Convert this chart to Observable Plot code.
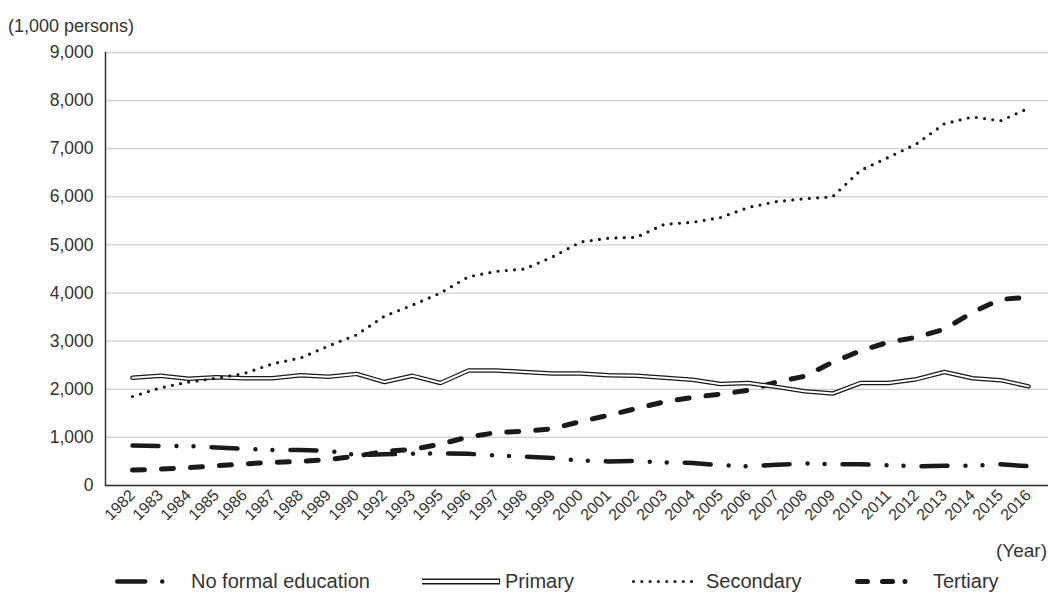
<!DOCTYPE html>
<html><head><meta charset="utf-8">
<script src="https://cdn.jsdelivr.net/npm/d3@7"></script>
<script src="https://cdn.jsdelivr.net/npm/@observablehq/plot@0.6"></script>
<style>
body{margin:0;background:#fff;font-family:"Liberation Sans",Arial,sans-serif;color:#333}
#wrap{position:relative;width:1048px;height:594px;overflow:hidden}
#chart{position:absolute;left:0;top:0}
.lab{position:absolute;color:#333;white-space:nowrap;line-height:1.15}
#ylab{left:8px;top:16px;font-size:18px}
#xlab{right:1px;top:540px;font-size:19px}
#legend{position:absolute;left:0;top:570px;width:1048px;height:23px}
.sw{position:absolute;top:0}
.txt{position:absolute;top:0;font-size:20px;line-height:23px;color:#333;white-space:nowrap}
</style></head><body>
<div id="wrap"><div id="chart"></div>
<div class="lab" id="ylab">(1,000 persons)</div>
<div class="lab" id="xlab">(Year)</div>
<div id="legend"></div></div>
<script>
const years = ["1982","1983","1984","1985","1986","1987","1988","1989","1990","1992","1993","1995","1996","1997","1998","1999","2000","2001","2002","2003","2004","2005","2006","2007","2008","2009","2010","2011","2012","2013","2014","2015","2016"];
const noFormal = [830,820,820,790,760,740,740,720,630,650,660,670,660,620,600,570,520,500,510,480,470,420,400,430,460,440,440,420,400,410,410,440,400];
const primary = [2240,2280,2220,2250,2230,2230,2290,2260,2320,2150,2280,2130,2390,2390,2360,2330,2330,2290,2280,2240,2200,2110,2130,2050,1960,1910,2130,2130,2210,2360,2230,2190,2060];
const secondary = [1850,2030,2150,2230,2330,2530,2650,2900,3130,3520,3750,4000,4340,4450,4500,4750,5060,5140,5160,5430,5470,5570,5780,5900,5960,6000,6550,6820,7100,7520,7660,7580,7840];
const tertiary = [320,340,370,410,450,480,500,540,610,710,750,860,1010,1100,1130,1180,1330,1460,1600,1740,1830,1900,1980,2150,2270,2560,2800,2980,3080,3250,3600,3870,3910];
const yTicks = [0,1000,2000,3000,4000,5000,6000,7000,8000,9000];
const seriesNames = ["No formal education","Primary","Secondary","Tertiary"];

const toRows = vals => years.map((y, i) => ({year: y, value: vals[i]}));
const ink = "#1a1a1a";
const styles = {
  "No formal education": {strokeWidth: 4.5, strokeDasharray: "26 18 0 17 0 18"},
  "Secondary": {strokeWidth: 3.2, strokeDasharray: "0 8.3"},
  "Tertiary": {strokeWidth: 5, strokeDasharray: "12 17"}
};

const chart = Plot.plot({
  width: 1048, height: 560,
  marginTop: 52, marginBottom: 75, marginLeft: 105, marginRight: 0,
  style: {fontFamily: '"Liberation Sans", Arial, sans-serif', color: "#333", background: "#fff"},
  x: {type: "point", domain: years, padding: 0, insetLeft: 13, insetRight: 6},
  y: {domain: [0, 9000]},
  marks: [
    Plot.gridY(yTicks, {stroke: "#cfcfcf", strokeOpacity: 1, strokeWidth: 1.3}),
    Plot.axisY(yTicks, {tickSize: 0, tickPadding: 12, tickFormat: d3.format(","), fontSize: 17.5, label: null}),
    Plot.axisX({tickSize: 0, tickRotate: -45, tickPadding: 7, fontSize: 16, label: null}),
    Plot.frame({anchor: "left", stroke: "#333", strokeWidth: 1.5}),
    Plot.ruleY([0], {stroke: "#333", strokeWidth: 1.5}),
    Plot.line(toRows(tertiary), {x: "year", y: "value", stroke: ink, strokeLinecap: "round", ...styles["Tertiary"]}),
    Plot.line(toRows(noFormal), {x: "year", y: "value", stroke: ink, strokeLinecap: "round", ...styles["No formal education"]}),
    Plot.line(toRows(primary), {x: "year", y: "value", stroke: ink, strokeWidth: 4.5, strokeLinejoin: "miter"}),
    Plot.line(toRows(primary), {x: "year", y: "value", stroke: "#fff", strokeWidth: 2, strokeLinejoin: "miter"}),
    Plot.line(toRows(secondary), {x: "year", y: "value", stroke: ink, strokeLinecap: "round", ...styles["Secondary"]})
  ]
});
document.getElementById("chart").appendChild(chart);

// legend (HTML with small inline swatches)
const swatchX = [113, 422, 630, 853];
const swatchW = [54, 78, 66, 58];
const textX = [191, 505, 706, 933];
const legend = document.getElementById("legend");
const ns = "http://www.w3.org/2000/svg";
seriesNames.forEach((name, i) => {
  const svg = document.createElementNS(ns, "svg");
  svg.setAttribute("class", "sw");
  svg.style.left = swatchX[i] + "px";
  svg.setAttribute("width", swatchW[i]); svg.setAttribute("height", 23);
  const mk = (stroke, sw, dash, x1, x2) => {
    const l = document.createElementNS(ns, "line");
    l.setAttribute("x1", x1); l.setAttribute("x2", x2); l.setAttribute("y1", 11.5); l.setAttribute("y2", 11.5);
    l.setAttribute("stroke", stroke); l.setAttribute("stroke-width", sw);
    l.setAttribute("stroke-linecap", dash ? "round" : "butt");
    if (dash) l.setAttribute("stroke-dasharray", dash);
    svg.appendChild(l);
  };
  if (name === "Primary") { mk(ink, 6, null, 0, 78); mk("#fff", 3, null, 0, 77); }
  else if (name === "No formal education") mk(ink, 4.5, "28 17 0 100", 4.25, 52);
  else if (name === "Secondary") mk(ink, 3.2, "0 8.3", 3.5, 64);
  else mk(ink, 5, "10 15 10 12.5 0 100", 4.5, 56);
  legend.appendChild(svg);
  const t = document.createElement("span");
  t.className = "txt";
  t.style.left = textX[i] + "px";
  t.textContent = name;
  legend.appendChild(t);
});
</script>
</body></html>
